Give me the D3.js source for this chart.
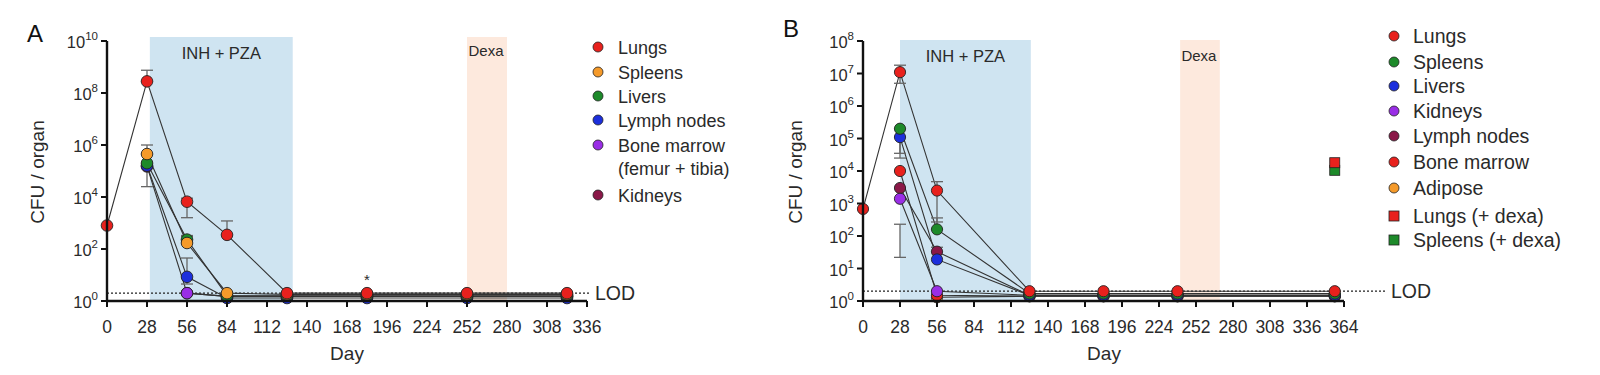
<!DOCTYPE html>
<html><head><meta charset="utf-8">
<script src="https://cdn.jsdelivr.net/npm/d3@7"></script>
<style>body{margin:0;background:#fff}svg{font-family:Arial,"Liberation Sans",sans-serif}</style>
</head><body><svg id="c" width="1600" height="375"></svg>
<script>
// ---------- Panel A data ----------
const daysA = [0, 28, 56, 84, 126, 182, 252, 322];
const lungsA   = [800, 2.8e8, 6.6e3, 350, 2, 2, 2, 2];
const spleensA = [null, 4.5e5, 170, 2, 1.8, 1.8, 1.8, 1.8];
const liversA  = [null, 2.0e5, 230, 1.6, 1.6, 1.6, 1.6, 1.6];
const lymphA   = [null, 1.6e5, 8.5, 1.3, 1.3, 1.3, 1.3, 1.3];
const boneA    = [null, null, 2, 1.5, 1.5, 1.5, 1.5, 1.5];
const kidneysA = [null, 1.5e5, 2, 1.5, 1.5, 1.5, 1.5, 1.5];
// error bars [day, low, high]
const errLungsA   = [[28, 2.8e8, 7.5e8], [56, 1.6e3, 9e3], [84, 350, 1.2e3]];
const errSpleensA = [[28, 4.5e5, 1e6], [56, 170, 330]];
const errLiversA  = [[28, 2.5e4, 2e5], [56, 230, 300]];
const errLymphA   = [[56, 4.5, 45]];
const ticksXA = [0, 28, 56, 84, 112, 140, 168, 196, 224, 252, 280, 308, 336];
const ticksYA = [0, 2, 4, 6, 8, 10];
const inhA = [30, 130];
const dexaA = [252, 280];
const starDayA = 182;

// ---------- Panel B data ----------
const daysB = [0, 28, 56, 126, 182, 238, 357];
const lungsB   = [680, 1.1e7, 2500, 2, 2, 2, 2];
const spleensB = [null, 2.0e5, 160, 1.7, 1.7, 1.7, 1.7];
const liversB  = [null, 1.1e5, 19, 1.5, 1.5, 1.5, 1.5];
const kidneysB = [null, 1400, 2, 1.5, 1.5, 1.5, 1.5];
const lymphB   = [null, 3000, 33, 1.5, 1.5, 1.5, 1.5];
const boneB    = [null, 1.0e4, 1.5, 1.4, 1.4, 1.4, 1.4];
const adiposeB = [null, null, 1.3, 1.4, 1.4, 1.4, 1.4];
const dexaLungsB = [[357, 1.8e4]];
const dexaSpleensB = [[357, 1.05e4]];
const errLungsB   = [[28, 5e6, 1.8e7], [56, 270, 4700]];
const errSpleensB = [[28, 3.5e4, 2e5], [56, 160, 360]];
const errLiversB  = [[28, 2.5e4, 1.1e5]];
const errKidneysB = [[28, 22, 230]];
const errLymphB   = [[56, 33, 45]];
const ticksXB = [0, 28, 56, 84, 112, 140, 168, 196, 224, 252, 280, 308, 336, 364];
const ticksYB = [0, 1, 2, 3, 4, 5, 6, 7, 8];
const inhB = [28, 127];
const dexaB = [240, 270];
const LOD = 2;

const C = {red:"#e8211d", orange:"#f59a2a", green:"#1d8a2a", blue:"#1c2fdc", purple:"#9a2ee6", maroon:"#8a1848"};
const svg = d3.select("#c");
const TXT = "#2a2a2a";

function panel(cfg){
  const g = svg.append("g");
  const x = d3.scaleLinear().domain(cfg.xdom).range(cfg.xr);
  const y = d3.scaleLog().domain(cfg.ydom).range(cfg.yr);
  // shading
  g.append("rect").attr("x", x(cfg.inh[0])).attr("width", x(cfg.inh[1]) - x(cfg.inh[0]))
    .attr("y", cfg.shadeTop).attr("height", y(1) - cfg.shadeTop).attr("fill", "#cfe4f1");
  g.append("rect").attr("x", x(cfg.dexa[0])).attr("width", x(cfg.dexa[1]) - x(cfg.dexa[0]))
    .attr("y", cfg.shadeTop).attr("height", y(1) - cfg.shadeTop).attr("fill", "#fde9dd");
  g.append("text").attr("x", (x(cfg.inh[0]) + x(cfg.inh[1])) / 2).attr("y", cfg.shadeTop + 22)
    .attr("text-anchor", "middle").attr("font-size", 16.5).attr("fill", TXT).text("INH + PZA");
  g.append("text").attr("x", (x(cfg.dexa[0]) + x(cfg.dexa[1])) / 2 - 1).attr("y", cfg.shadeTop + cfg.dexaDy)
    .attr("text-anchor", "middle").attr("font-size", 15).attr("fill", TXT).text("Dexa");
  // LOD
  g.append("line").attr("x1", cfg.xr[0]).attr("x2", cfg.lodEnd).attr("y1", y(LOD)).attr("y2", y(LOD))
    .attr("stroke", "#222").attr("stroke-width", 1.3).attr("stroke-dasharray", "2,2");
  g.append("text").attr("x", cfg.lodEnd + 5).attr("y", y(LOD) + 7).attr("font-size", 19.5).attr("fill", TXT).text("LOD");
  // lines
  const line = d3.line().defined(d => d[1] != null).x(d => x(d[0])).y(d => y(d[1]));
  cfg.series.forEach(s => {
    const pts = cfg.days.map((d, i) => [d, s.v[i]]);
    g.append("path").attr("d", line(pts)).attr("fill", "none").attr("stroke", "#333").attr("stroke-width", 1.1);
  });
  // error bars
  cfg.errs.forEach(es => es.forEach(e => {
    const xx = x(e[0]);
    g.append("line").attr("x1", xx).attr("x2", xx).attr("y1", y(e[1])).attr("y2", y(e[2])).attr("stroke", "#666").attr("stroke-width", 1.3);
    [e[1], e[2]].forEach(v => g.append("line").attr("x1", xx - 6).attr("x2", xx + 6).attr("y1", y(v)).attr("y2", y(v)).attr("stroke", "#666").attr("stroke-width", 1.3));
  }));
  // markers (draw in reverse so first series on top)
  cfg.series.slice().reverse().forEach(s => {
    cfg.days.forEach((d, i) => {
      if (s.v[i] == null) return;
      g.append("circle").attr("cx", x(d)).attr("cy", y(s.v[i])).attr("r", cfg.r)
        .attr("fill", s.c).attr("stroke", "#222").attr("stroke-width", 0.9);
    });
  });
  (cfg.squares || []).forEach(sq => sq.pts.forEach(p => {
    g.append("rect").attr("x", x(p[0]) - 5).attr("y", y(p[1]) - 5).attr("width", 10).attr("height", 10)
      .attr("fill", sq.c).attr("stroke", "#222").attr("stroke-width", 0.8);
  }));
  // axes
  const yb = y(1);
  g.append("line").attr("x1", cfg.xr[0]).attr("x2", cfg.xr[1]).attr("y1", yb).attr("y2", yb).attr("stroke", "#111").attr("stroke-width", 2.4);
  g.append("line").attr("x1", cfg.xr[0]).attr("x2", cfg.xr[0]).attr("y1", yb).attr("y2", cfg.yr[1]).attr("stroke", "#111").attr("stroke-width", 2.4);
  cfg.ticksX.forEach(t => {
    g.append("line").attr("x1", x(t)).attr("x2", x(t)).attr("y1", yb).attr("y2", yb + 6).attr("stroke", "#111").attr("stroke-width", 2);
    g.append("text").attr("x", x(t)).attr("y", yb + 32).attr("text-anchor", "middle").attr("font-size", 17.5).attr("fill", TXT).text(t);
  });
  cfg.ticksY.forEach(p => {
    const yy = y(Math.pow(10, p));
    g.append("line").attr("x1", cfg.xr[0] - 6).attr("x2", cfg.xr[0]).attr("y1", yy).attr("y2", yy).attr("stroke", "#111").attr("stroke-width", 2);
    const t = g.append("text").attr("x", cfg.xr[0] - 9).attr("y", yy + 7).attr("text-anchor", "end").attr("font-size", 16.5).attr("fill", TXT);
    t.append("tspan").text("10");
    t.append("tspan").attr("dy", -8).attr("font-size", 11.5).text(p);
  });
  g.append("text").attr("x", cfg.dayX).attr("y", 360).attr("text-anchor", "middle").attr("font-size", 19).attr("fill", TXT).text("Day");
  g.append("text").attr("transform", `translate(${cfg.ylabX},172) rotate(-90)`).attr("text-anchor", "middle").attr("font-size", 19).attr("fill", TXT).text("CFU / organ");
  g.append("text").attr("x", cfg.letter[0]).attr("y", cfg.letter[1]).attr("font-size", 24).attr("fill", "#111").text(cfg.name);
  if (cfg.star != null) g.append("text").attr("x", x(cfg.star)).attr("y", y(LOD) - 8).attr("text-anchor", "middle").attr("font-size", 15).attr("fill", TXT).text("*");
  // legend
  cfg.legend.forEach((L, i) => {
    const yy = cfg.legY[i];
    if (L.sq) g.append("rect").attr("x", cfg.legX - 5).attr("y", yy - 5).attr("width", 10).attr("height", 10).attr("fill", L.c).attr("stroke", "#222").attr("stroke-width", 0.8);
    else g.append("circle").attr("cx", cfg.legX).attr("cy", yy).attr("r", 5).attr("fill", L.c).attr("stroke", "#222").attr("stroke-width", 0.8);
    const lines = L.t.split("\n");
    lines.forEach((ln, j) => g.append("text").attr("x", cfg.legX + cfg.legGap).attr("y", yy + 6.5 + j * 23).attr("font-size", cfg.legFont).attr("fill", TXT).text(ln));
  });
}

panel({
  name: "A", letter: [27, 42], xdom: [0, 336], xr: [107, 587], ydom: [1, 1e10], yr: [301, 41],
  shadeTop: 37, dexaDy: 19, inh: inhA, dexa: dexaA, lodEnd: 590, ylabX: 44, dayX: 347, r: 5.8,
  days: daysA, ticksX: ticksXA, ticksY: ticksYA, star: starDayA,
  series: [
    {v: lungsA, c: C.red}, {v: spleensA, c: C.orange}, {v: liversA, c: C.green},
    {v: lymphA, c: C.blue}, {v: boneA, c: C.purple}, {v: kidneysA, c: C.maroon}
  ],
  errs: [errLungsA, errSpleensA, errLiversA, errLymphA],
  legX: 598, legGap: 20, legFont: 18, legY: [47, 72, 96, 120, 145, 195],
  legend: [{t: "Lungs", c: C.red}, {t: "Spleens", c: C.orange}, {t: "Livers", c: C.green},
    {t: "Lymph nodes", c: C.blue}, {t: "Bone marrow\n(femur + tibia)", c: C.purple}, {t: "Kidneys", c: C.maroon}]
});

panel({
  name: "B", letter: [783, 37], xdom: [0, 364], xr: [863, 1344], ydom: [1, 1e8], yr: [301, 41],
  shadeTop: 40, dexaDy: 21, inh: inhB, dexa: dexaB, lodEnd: 1386, ylabX: 802, dayX: 1104, r: 5.6,
  days: daysB, ticksX: ticksXB, ticksY: ticksYB, star: null,
  series: [
    {v: lungsB, c: C.red}, {v: spleensB, c: C.green}, {v: liversB, c: C.blue},
    {v: kidneysB, c: C.purple}, {v: lymphB, c: C.maroon}, {v: boneB, c: C.red}, {v: adiposeB, c: C.orange}
  ],
  errs: [errLungsB, errSpleensB, errLiversB, errKidneysB, errLymphB],
  squares: [{pts: dexaSpleensB, c: C.green}, {pts: dexaLungsB, c: C.red}],
  legX: 1394, legGap: 19, legFont: 19.5, legY: [36, 62, 86, 111, 136, 162, 188, 216, 240],
  legend: [{t: "Lungs", c: C.red}, {t: "Spleens", c: C.green}, {t: "Livers", c: C.blue},
    {t: "Kidneys", c: C.purple}, {t: "Lymph nodes", c: C.maroon}, {t: "Bone marrow", c: C.red},
    {t: "Adipose", c: C.orange}, {t: "Lungs (+ dexa)", c: C.red, sq: true}, {t: "Spleens (+ dexa)", c: C.green, sq: true}]
});
</script></body></html>
